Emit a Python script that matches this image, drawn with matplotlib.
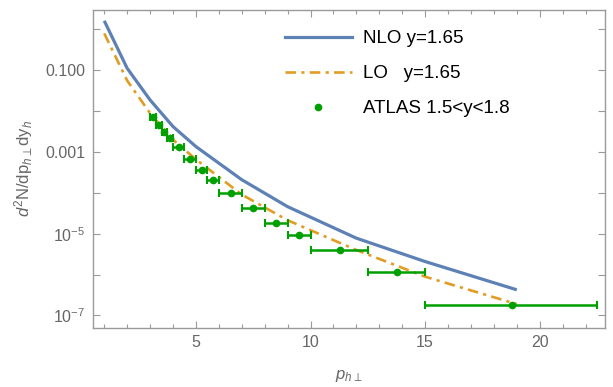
import numpy as np
import matplotlib
matplotlib.use("Agg")
import matplotlib.pyplot as plt
from matplotlib.lines import Line2D
from matplotlib.ticker import FixedLocator, FuncFormatter, MultipleLocator

plt.rcParams['font.family'] = ['Liberation Sans', 'DejaVu Sans']
plt.rcParams['mathtext.fontset'] = 'custom'
plt.rcParams['mathtext.rm'] = 'Liberation Sans'
plt.rcParams['mathtext.it'] = 'Liberation Sans:italic'
plt.rcParams['mathtext.bf'] = 'Liberation Sans:bold'

# Theory curves (pT grid, values)
pt_theory = [1, 2, 3, 4, 5, 7, 9, 12, 15, 19]
nlo_vals = [1.63, 0.112, 0.0188, 0.0042, 1.36e-3, 2.1e-4, 4.6e-5, 7.8e-6, 2.09e-6, 4.25e-7]
lo_vals = [0.80, 0.056, 8.9e-3, 2.0e-3, 6.6e-4, 9.1e-5, 2.14e-5, 4.0e-6, 8.9e-7, 1.9e-7]

# ATLAS data
atlas_pt = [3.11, 3.37, 3.62, 3.86, 4.26, 4.74, 5.25, 5.76, 6.52, 7.50, 8.49, 9.51, 11.29, 13.76, 18.79]
atlas_lo = [3.0, 3.25, 3.5, 3.75, 4.0, 4.5, 5.0, 5.5, 6.0, 7.0, 8.0, 9.0, 10.0, 12.5, 15.0]
atlas_hi = [3.25, 3.5, 3.75, 4.0, 4.5, 5.0, 5.5, 6.0, 7.0, 8.0, 9.0, 10.0, 12.5, 15.0, 22.5]
atlas_vals = [7.4e-3, 4.6e-3, 3.16e-3, 2.19e-3, 1.30e-3, 6.8e-4, 3.7e-4, 2.1e-4,
              9.8e-5, 4.3e-5, 1.82e-5, 9.3e-6, 3.9e-6, 1.15e-6, 1.82e-7]

ytick_vals = [1e0, 1e-1, 1e-2, 1e-3, 1e-4, 1e-5, 1e-6, 1e-7]
ytick_labels = {1e-1: "0.100", 1e-3: "0.001", 1e-5: r"$10^{-5}$", 1e-7: r"$10^{-7}$"}

blue = '#5E81B5'
orange = '#E19C24'
green = '#00A000'
gray = '#9A9A9A'
tgray = '#666666'

fig = plt.figure(figsize=(6.13, 3.87), dpi=100)
ax = fig.add_axes([0.151, 0.153, 0.836, 0.821])

ax.plot(pt_theory, nlo_vals, color=blue, lw=2.3, solid_capstyle='butt')
ax.plot(pt_theory, lo_vals, color=orange, lw=1.9, dashes=(4, 2, 1.2, 2))

xerr = [np.array(atlas_pt) - np.array(atlas_lo), np.array(atlas_hi) - np.array(atlas_pt)]
ax.errorbar(atlas_pt, atlas_vals, xerr=xerr, fmt='o', color=green, ms=4.5,
            elinewidth=1.8, capsize=2.6, capthick=1.5)

ax.set_yscale('log')
ax.set_xlim(0.49, 22.85)
ax.set_ylim(5.0e-8, 2.98)

ax.xaxis.set_major_locator(FixedLocator([5, 10, 15, 20]))
ax.xaxis.set_minor_locator(MultipleLocator(1))
ax.yaxis.set_major_locator(FixedLocator(ytick_vals))
ax.yaxis.set_minor_locator(FixedLocator([]))
ax.yaxis.set_major_formatter(FuncFormatter(
    lambda v, p: next((lab for k, lab in ytick_labels.items() if abs(np.log10(v) - np.log10(k)) < 1e-6), "")))

for s in ax.spines.values():
    s.set_color(gray)
    s.set_linewidth(1.0)
ax.tick_params(which='both', direction='in', top=True, right=True, color=gray,
               labelcolor=tgray, labelsize=11.5)
ax.tick_params(which='major', length=5, width=0.8, pad=5)
ax.tick_params(which='minor', length=3, width=0.8)

ax.set_xlabel(r'$p_{h\perp}$', color=tgray, fontsize=12, labelpad=13)
ax.set_ylabel(r'$d^2$N/dp$_{h\perp}$dy$_h$', color=tgray, fontsize=12, labelpad=8)

handles = [Line2D([], [], color=blue, lw=2.3),
           Line2D([], [], color=orange, lw=1.9, dashes=(4, 2, 1.2, 2)),
           Line2D([], [], color=green, marker='o', ms=4.5, ls='none')]
labels = ['NLO y=1.65', 'LO   y=1.65', 'ATLAS 1.5<y<1.8']
ax.legend(handles, labels, loc='upper left', bbox_to_anchor=(0.342, 0.99),
          frameon=False, fontsize=13.5, handlelength=3.6, handletextpad=0.6,
          labelspacing=0.95)

fig.savefig('out.png', dpi=100)
